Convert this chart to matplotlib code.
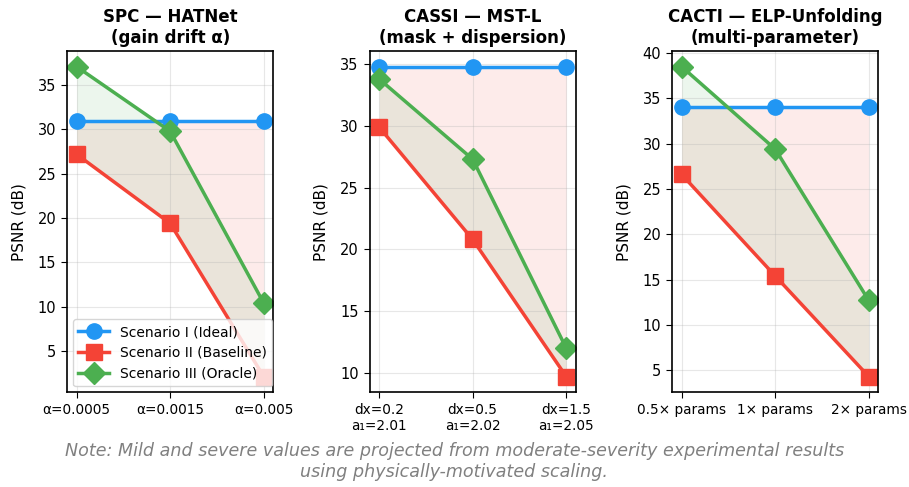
import numpy as np
import matplotlib.pyplot as plt

BLUE, RED, GREEN = "#2196F3", "#F44336", "#4CAF50"

titles = ["SPC — HATNet\n(gain drift α)",
          "CASSI — MST-L\n(mask + dispersion)",
          "CACTI — ELP-Unfolding\n(multi-parameter)"]
tick_labels = [["α=0.0005", "α=0.0015", "α=0.005"],
               ["dx=0.2\na₁=2.01", "dx=0.5\na₁=2.02", "dx=1.5\na₁=2.05"],
               ["0.5× params", "1× params", "2× params"]]

ideal    = [[31.0, 31.0, 31.0], [34.8, 34.8, 34.8], [34.1, 34.1, 34.1]]
baseline = [[27.2, 19.4, 2.1], [29.9, 20.8, 9.7], [26.6, 15.4, 4.3]]
oracle   = [[37.1, 29.8, 10.4], [33.8, 27.3, 12.0], [38.5, 29.4, 12.7]]

fig, axes = plt.subplots(1, 3, figsize=(9.09, 4.87), dpi=100)
plt.subplots_adjust(left=0.074, right=0.966, bottom=0.195, top=0.895, wspace=0.47)

for i, ax in enumerate(axes):
    x = np.arange(3)
    # shaded gaps: baseline->ideal (red), baseline->oracle (green)
    ax.fill_between(x, baseline[i], ideal[i], color=RED, alpha=0.1, lw=0)
    ax.fill_between(x, baseline[i], oracle[i], color=GREEN, alpha=0.1, lw=0)
    ax.plot(x, ideal[i], "-o", color=BLUE, lw=2.5, ms=11, label="Scenario I (Ideal)")
    ax.plot(x, baseline[i], "-s", color=RED, lw=2.5, ms=11, label="Scenario II (Baseline)")
    ax.plot(x, oracle[i], "-D", color=GREEN, lw=2.5, ms=11, label="Scenario III (Oracle)")
    ax.set_xticks(x)
    ax.set_xticklabels(tick_labels[i], fontsize=9.8)
    ax.tick_params(axis="y", labelsize=10.5)
    ax.tick_params(length=4.5)
    ax.set_ylabel("PSNR (dB)", fontsize=11, labelpad=8)
    ax.set_title(titles[i], fontsize=12, fontweight="bold")
    ax.grid(True, alpha=0.3)
    ax.set_xlim(-0.1, 2.1)
    for s in ax.spines.values():
        s.set_linewidth(1.2)

axes[0].legend(loc="lower left", fontsize=10, handlelength=2.2, borderaxespad=0.4)

fig.text(0.5, 0.053,
         "Note: Mild and severe values are projected from moderate-severity experimental results\n"
         "using physically-motivated scaling.",
         ha="center", va="center", fontsize=12.6, style="italic", color="gray")

plt.savefig("out.png", dpi=100)
